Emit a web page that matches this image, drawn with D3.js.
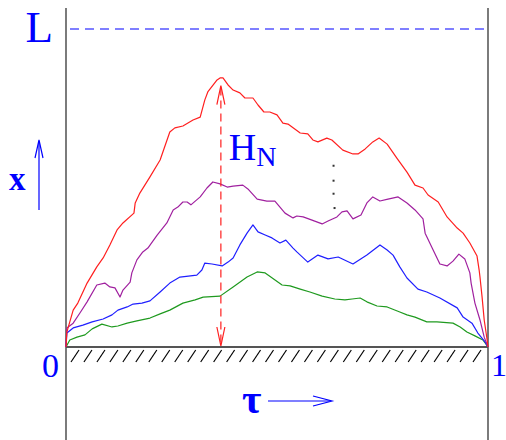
<!DOCTYPE html>
<html>
<head>
<meta charset="utf-8">
<script src="https://cdn.jsdelivr.net/npm/d3@7"></script>
<style>
  html, body { margin: 0; padding: 0; background: #fff; }
  svg { display: block; }
</style>
</head>
<body>
<svg id="chart"></svg>
<script>
// height profiles, [tau, x/L]
const redPath = [[0,0],[0.002,0.047],[0.017,0.116],[0.028,0.138],[0.050,0.201],[0.073,0.252],[0.088,0.280],[0.104,0.321],[0.121,0.368],[0.135,0.390],[0.161,0.421],[0.164,0.453],[0.175,0.484],[0.199,0.535],[0.223,0.588],[0.246,0.676],[0.258,0.689],[0.277,0.695],[0.301,0.714],[0.318,0.723],[0.329,0.777],[0.336,0.802],[0.358,0.840],[0.365,0.846],[0.372,0.846],[0.384,0.824],[0.396,0.808],[0.412,0.799],[0.424,0.783],[0.443,0.783],[0.455,0.761],[0.469,0.739],[0.483,0.739],[0.500,0.730],[0.514,0.704],[0.526,0.701],[0.555,0.673],[0.573,0.670],[0.585,0.651],[0.597,0.645],[0.618,0.657],[0.630,0.651],[0.656,0.619],[0.680,0.607],[0.692,0.607],[0.709,0.623],[0.727,0.645],[0.742,0.657],[0.761,0.638],[0.784,0.594],[0.808,0.550],[0.827,0.509],[0.846,0.500],[0.858,0.478],[0.882,0.456],[0.903,0.409],[0.927,0.374],[0.941,0.358],[0.957,0.327],[0.974,0.286],[0.979,0.242],[0.981,0.220],[0.986,0.157],[0.991,0.085],[0.998,0.022],[1,0]];
const purplePath = [[0,0],[0.002,0.060],[0.017,0.075],[0.033,0.107],[0.050,0.142],[0.073,0.195],[0.092,0.201],[0.104,0.189],[0.116,0.186],[0.128,0.157],[0.135,0.179],[0.152,0.204],[0.156,0.233],[0.168,0.274],[0.182,0.299],[0.194,0.311],[0.216,0.352],[0.239,0.390],[0.254,0.431],[0.265,0.440],[0.277,0.456],[0.287,0.456],[0.296,0.447],[0.318,0.472],[0.334,0.500],[0.348,0.519],[0.365,0.513],[0.382,0.503],[0.396,0.506],[0.419,0.509],[0.431,0.497],[0.453,0.465],[0.476,0.459],[0.495,0.459],[0.507,0.440],[0.519,0.421],[0.538,0.406],[0.547,0.412],[0.562,0.409],[0.583,0.399],[0.607,0.387],[0.621,0.396],[0.642,0.409],[0.654,0.425],[0.666,0.428],[0.680,0.403],[0.699,0.415],[0.713,0.453],[0.727,0.472],[0.744,0.459],[0.763,0.465],[0.787,0.472],[0.808,0.453],[0.827,0.431],[0.846,0.403],[0.851,0.358],[0.870,0.305],[0.886,0.261],[0.903,0.255],[0.917,0.270],[0.931,0.292],[0.945,0.277],[0.957,0.233],[0.960,0.201],[0.969,0.138],[0.981,0.085],[0.991,0.031],[1,0]];
const bluePath = [[0,0],[0.002,0.044],[0.017,0.060],[0.040,0.069],[0.062,0.079],[0.088,0.088],[0.109,0.101],[0.123,0.116],[0.145,0.126],[0.159,0.135],[0.180,0.138],[0.199,0.145],[0.223,0.173],[0.246,0.201],[0.270,0.220],[0.310,0.226],[0.322,0.242],[0.329,0.264],[0.346,0.261],[0.370,0.255],[0.384,0.267],[0.396,0.280],[0.412,0.321],[0.429,0.358],[0.443,0.384],[0.455,0.362],[0.472,0.352],[0.488,0.343],[0.507,0.327],[0.521,0.336],[0.538,0.311],[0.547,0.299],[0.573,0.267],[0.597,0.289],[0.621,0.277],[0.645,0.283],[0.680,0.261],[0.713,0.289],[0.744,0.321],[0.761,0.305],[0.775,0.289],[0.791,0.252],[0.808,0.217],[0.834,0.182],[0.855,0.173],[0.886,0.154],[0.927,0.123],[0.941,0.094],[0.962,0.075],[0.976,0.044],[0.993,0.016],[1,0]];
const greenPath = [[0,0],[0.009,0.022],[0.026,0.031],[0.045,0.038],[0.062,0.057],[0.085,0.072],[0.109,0.063],[0.123,0.066],[0.145,0.075],[0.168,0.082],[0.199,0.091],[0.223,0.104],[0.246,0.116],[0.277,0.138],[0.306,0.148],[0.325,0.157],[0.365,0.160],[0.396,0.189],[0.429,0.220],[0.453,0.236],[0.472,0.233],[0.512,0.195],[0.531,0.192],[0.555,0.182],[0.578,0.173],[0.607,0.160],[0.637,0.151],[0.661,0.148],[0.678,0.151],[0.697,0.154],[0.713,0.142],[0.737,0.129],[0.761,0.126],[0.791,0.110],[0.808,0.101],[0.827,0.094],[0.855,0.079],[0.879,0.079],[0.917,0.075],[0.934,0.063],[0.950,0.047],[0.969,0.035],[0.988,0.022],[1,0]];

const curves = [
    { name: "green", pts: greenPath, color: "#1f9a1f" },
    { name: "blue", pts: bluePath, color: "#1f1fff" },
    { name: "purple", pts: purplePath, color: "#a0209f" },
    { name: "red", pts: redPath, color: "#ff1f1f" }
];

const tauTicks = [0, 1];
const heightTau = 0.367;      // where H_N arrow sits
const heightTop = 0.822;
const dotsTau = 0.634;
const dotsH = [0.570, 0.523, 0.482, 0.437];

const width = 506, height = 440;
const x = d3.scaleLinear().domain([0, 1]).range([66, 488]);
const y = d3.scaleLinear().domain([0, 1]).range([347, 29]);

const svg = d3.select("#chart").attr("width", width).attr("height", height);
const serif = "'Liberation Serif', 'DejaVu Serif', serif";
const blue = "#0000ff";

// walls
svg.selectAll(".wall")
    .data(tauTicks)
    .enter()
    .append("line")
    .attr("class", "wall")
    .attr("x1", d => x(d)).attr("x2", d => x(d))
    .attr("y1", 8).attr("y2", height)
    .attr("stroke", "#444")
    .attr("stroke-width", 1.4);

// floor and hatching
svg.append("line")
    .attr("x1", x(0)).attr("x2", x(1))
    .attr("y1", y(0)).attr("y2", y(0))
    .attr("stroke", "#555")
    .attr("stroke-width", 2);

const hatch = d3.range(32).map(i => i / 31);
svg.selectAll(".hatch")
    .data(hatch)
    .enter()
    .append("line")
    .attr("class", "hatch")
    .attr("x1", d => 71 + d * (473 - 71))
    .attr("x2", d => 79 + d * (473 - 71))
    .attr("y1", y(0) + 15)
    .attr("y2", y(0) + 3)
    .attr("stroke", "#000")
    .attr("stroke-width", 1.2);

// top dashed line at L
svg.append("line")
    .attr("x1", x(0) + 4).attr("x2", x(1))
    .attr("y1", y(1)).attr("y2", y(1))
    .attr("stroke", blue)
    .attr("stroke-width", 1.2)
    .attr("stroke-dasharray", "9,6");

// profiles
const line = d3.line()
    .x(d => x(d[0]))
    .y(d => y(d[1]));

svg.selectAll(".profile")
    .data(curves)
    .enter()
    .append("path")
    .attr("class", "profile")
    .attr("fill", "none")
    .attr("stroke", d => d.color)
    .attr("stroke-width", 1.2)
    .attr("stroke-linejoin", "round")
    .attr("d", d => line(d.pts));

// H_N double arrow
const ax = x(heightTau);
svg.append("line")
    .attr("x1", ax).attr("x2", ax)
    .attr("y1", y(heightTop) + 2).attr("y2", y(0) - 2)
    .attr("stroke", "#ff1f1f")
    .attr("stroke-width", 1.2)
    .attr("stroke-dasharray", "8,5");
svg.append("path")
    .attr("d", `M${ax - 4},${y(heightTop) + 19}L${ax},${y(heightTop)}L${ax + 4},${y(heightTop) + 19}`)
    .attr("fill", "none").attr("stroke", "#ff1f1f").attr("stroke-width", 1.2);
svg.append("path")
    .attr("d", `M${ax - 4},${y(0) - 20}L${ax},${y(0) - 1}L${ax + 4},${y(0) - 20}`)
    .attr("fill", "none").attr("stroke", "#ff1f1f").attr("stroke-width", 1.2);

const hn = svg.append("text")
    .attr("x", ax + 8)
    .attr("y", 160)
    .attr("fill", blue)
    .attr("font-family", serif)
    .attr("font-size", 38);
hn.append("tspan").text("H");
hn.append("tspan").attr("dy", 6).attr("font-size", 28).text("N");

// dots
svg.selectAll(".dot")
    .data(dotsH)
    .enter()
    .append("rect")
    .attr("class", "dot")
    .attr("x", (d, i) => x(dotsTau) - 1 + (i === 3 ? 1 : 0))
    .attr("y", d => y(d) - 1)
    .attr("width", 2).attr("height", 2)
    .attr("fill", "#333");

// labels
svg.append("text")
    .attr("x", 53).attr("y", y(1) + 13)
    .attr("text-anchor", "end")
    .attr("fill", blue)
    .attr("font-family", serif)
    .attr("font-size", 45)
    .text("L");

svg.append("text")
    .attr("x", x(0) - 7).attr("y", y(0) + 30)
    .attr("text-anchor", "end")
    .attr("fill", blue)
    .attr("font-family", serif)
    .attr("font-size", 34)
    .text("0");

svg.append("text")
    .attr("x", x(1) + 3).attr("y", y(0) + 29)
    .attr("fill", blue)
    .attr("font-family", serif)
    .attr("font-size", 32)
    .text("1");

// x axis label with up arrow
svg.append("text")
    .attr("x", 9).attr("y", 190)
    .attr("fill", blue)
    .attr("font-family", serif)
    .attr("font-weight", "bold")
    .attr("font-size", 33)
    .text("x");
svg.append("line")
    .attr("x1", 39).attr("x2", 39).attr("y1", 141).attr("y2", 210)
    .attr("stroke", blue).attr("stroke-width", 1.2);
svg.append("path")
    .attr("d", "M35,158L39,140L43,158")
    .attr("fill", "none").attr("stroke", blue).attr("stroke-width", 1.2);

// tau label with right arrow
svg.append("text")
    .attr("x", 242).attr("y", 413)
    .attr("fill", blue)
    .attr("font-family", serif)
    .attr("font-weight", "bold")
    .attr("font-size", 42)
    .text("τ");
svg.append("line")
    .attr("x1", 268).attr("x2", 331).attr("y1", 401).attr("y2", 401)
    .attr("stroke", blue).attr("stroke-width", 1.2);
svg.append("path")
    .attr("d", "M313,396L332,401L313,406")
    .attr("fill", "none").attr("stroke", blue).attr("stroke-width", 1.2);
</script>
</body>
</html>
